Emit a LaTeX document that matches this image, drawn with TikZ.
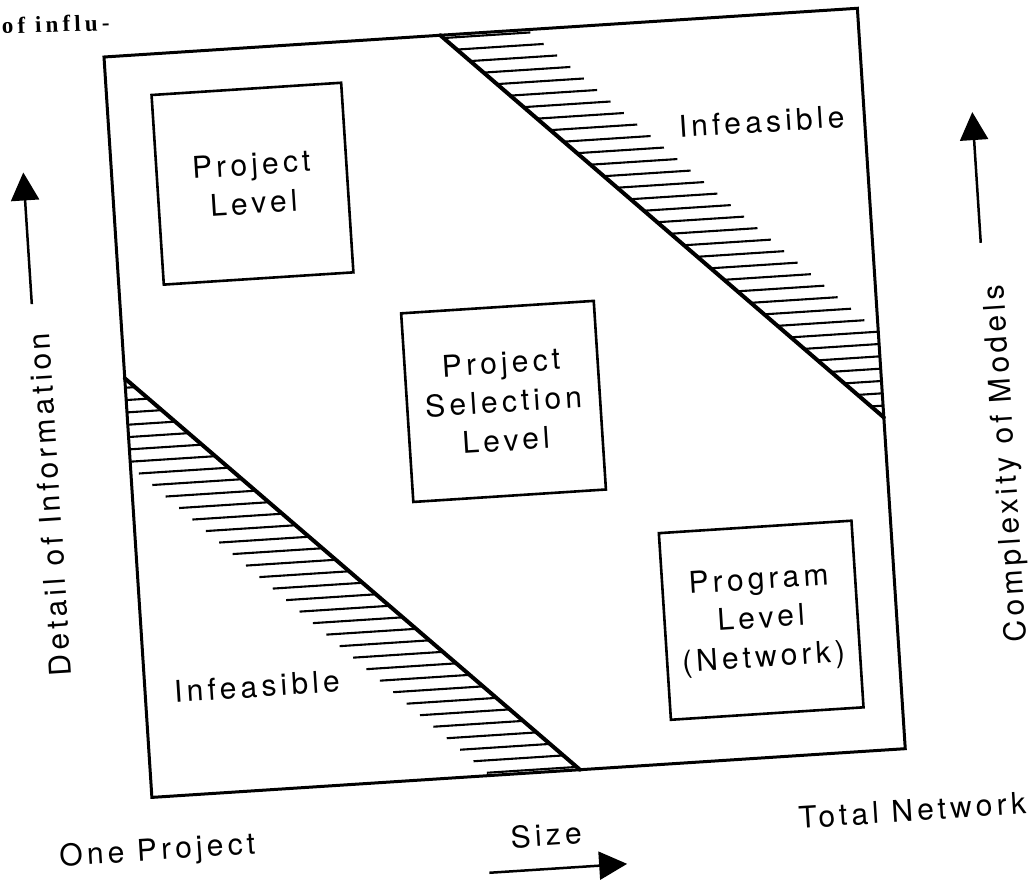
\documentclass[tikz,border=0pt]{standalone}
\usepackage{fontspec}
\setmainfont{TeX Gyre Heros}[LetterSpace=14]
\newfontfamily\scanserif{Liberation Serif}[LetterSpace=18]
\usetikzlibrary{arrows.meta}
\begin{document}
\begin{tikzpicture}[x=1pt,y=-1pt,
  frame/.style={line width=3pt, line join=miter},
  levelbox/.style={draw, line width=2.6pt, align=center, inner sep=0pt, font=\fontsize{30}{39}\selectfont},
  diag/.style={line width=4pt, line cap=round},
  hatch/.style={line width=2.1pt},
  lbl/.style={font=\fontsize{30}{39}\selectfont, inner sep=0pt},
  axisarrow/.style={line width=2.5pt, -{Triangle[length=28pt,width=28pt]}}
]
\useasboundingbox (0,0) rectangle (1034,879);
\clip (0,0) rectangle (1034,879);
\node[font=\scanserif\bfseries\fontsize{23}{26}\selectfont, anchor=base west, inner sep=0pt, rotate=2] (frag) at (2,34) {of influ-};
\begin{scope}[shift={(104,57)}, rotate=3.7, transform shape]
  % frame
  \coordinate (ftl) at (0,0);
  \coordinate (fbr) at (755,742);
  \draw[frame] (ftl) rectangle (fbr);
  % upper infeasible region
  \foreach \k in {0,...,32} {
    \pgfmathsetmacro\b{3+\k*12.35}
    \pgfmathsetmacro\xd{337+\b/410*418}
    \pgfmathsetmacro\xe{min(755,\xd+87)}
    \draw[hatch] (\xd,\b) -- (\xe,\b);
  }
  \coordinate (ua) at (337,0);
  \coordinate (ub) at (755,410);
  \draw[diag] (ua) -- (ub);
  % lower infeasible region
  \foreach \k in {0,...,33} {
    \pgfmathsetmacro\b{739-\k*12.35}
    \pgfmathsetmacro\xd{(\b-322)/420*429}
    \pgfmathsetmacro\xs{max(0,\xd-90)}
    \draw[hatch] (\xs,\b) -- (\xd,\b);
  }
  \coordinate (la) at (0,322);
  \coordinate (lb) at (429,742);
  \draw[diag] (la) -- (lb);
  % level boxes
  \node[levelbox, minimum width=190pt, minimum height=190pt] (pl) at (140,136) {Project\\Level};
  \node[levelbox, minimum width=193pt, minimum height=189pt] (psl) at (376.5,369.5) {Project\\Selection\\Level};
  \node[levelbox, minimum width=193pt, minimum height=187pt] (pgl) at (619.5,604.5) {Program\\Level\\(Network)};
  % infeasible labels
  \node[lbl] (infup) at (652,107) {Infeasible};
  \node[lbl] (inflow) at (112,638) {Infeasible};
  % left axis
  \coordinate (lax0) at (-88,242);
  \coordinate (lax1) at (-88,110);
  \draw[axisarrow] (lax0) -- (lax1);
  \node[lbl, rotate=90] (ltext) at (-83,443) {Detail of Information};
  % right axis
  \coordinate (rax0) at (863,242);
  \coordinate (rax1) at (863,111);
  \draw[axisarrow] (rax0) -- (rax1);
  \node[lbl, rotate=90] (rtext) at (875,464) {Complexity of Models};
  % bottom axis
  \node[lbl] (onep) at (2,797) {One Project};
  \node[lbl] (size) at (391,805) {Size};
  \node[lbl] (totn) at (758,804) {Total Network};
  \coordinate (bax0) at (332,839);
  \coordinate (bax1) at (470,839);
  \draw[axisarrow] (bax0) -- (bax1);
\end{scope}
\end{tikzpicture}
\end{document}
